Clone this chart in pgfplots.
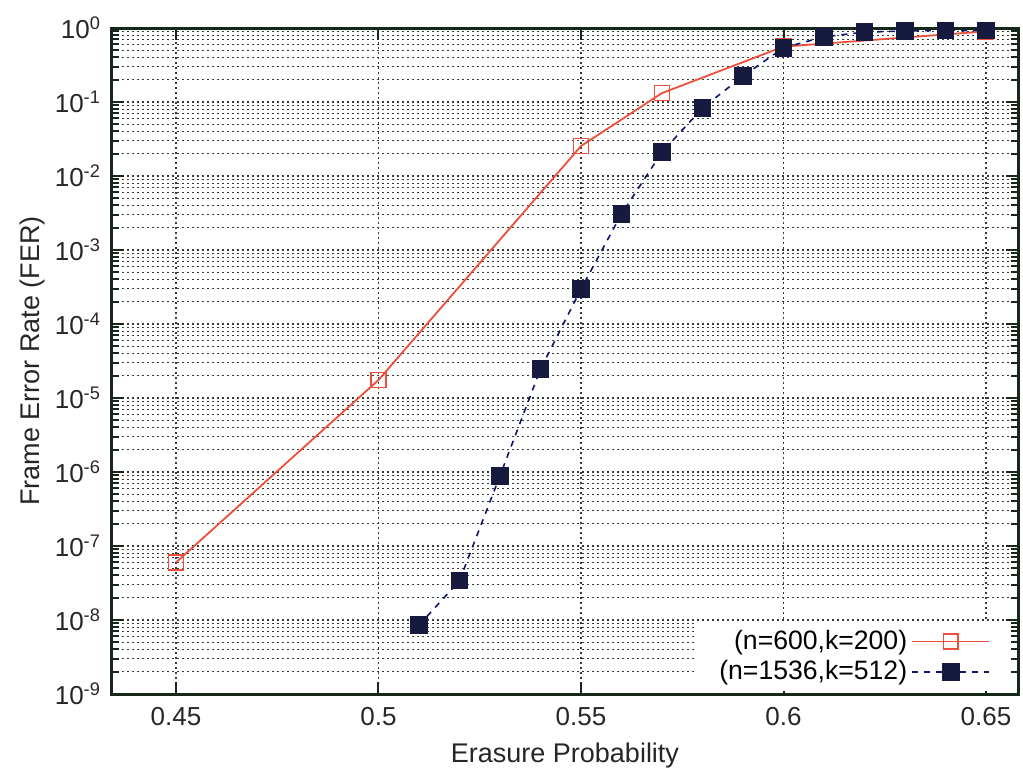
\documentclass[border=0pt]{standalone}
\usepackage{pgfplots}
\pgfplotsset{compat=1.18}
\usepackage{fontspec}
\setmainfont{Liberation Sans}
\usetikzlibrary{calc}
\definecolor{cred}{RGB}{238,78,58}
\definecolor{cnavy}{RGB}{22,26,62}
\definecolor{caxis}{RGB}{22,38,26}
\definecolor{cgrid}{RGB}{50,60,50}
\begin{document}
\begin{tikzpicture}
\begin{axis}[
  scale only axis,
  width=453pt, height=333pt,
  ymode=log,
  xmin=0.4342, xmax=0.6579,
  ymin=1e-9, ymax=1,
  axis line style={color=caxis, line width=1.5pt},
  tick style={color=caxis, line width=1pt},
  major tick length=6pt, minor tick length=3.5pt,
  tick align=inside,
  xtick={0.45,0.5,0.55,0.6,0.65},
  xticklabels={0.45,0.5,0.55,0.6,0.65},
  ytick={1e-9,1e-8,1e-7,1e-6,1e-5,1e-4,1e-3,1e-2,1e-1,1},
  yticklabels={10\textsuperscript{-9},10\textsuperscript{-8},10\textsuperscript{-7},10\textsuperscript{-6},10\textsuperscript{-5},10\textsuperscript{-4},10\textsuperscript{-3},10\textsuperscript{-2},10\textsuperscript{-1},10\textsuperscript{0}},
  ticklabel style={font=\fontsize{13}{15}\selectfont, color=black!85},
  xticklabel style={yshift=-3pt},
  yticklabel style={xshift=-2pt},
  xmajorgrids, ymajorgrids, yminorgrids,
  major grid style={color=cgrid, line width=0.6pt, dash pattern=on 0.9pt off 1.6pt},
  minor grid style={color=cgrid, line width=0.6pt, dash pattern=on 0.9pt off 1.6pt},
  xlabel={Erasure Probability},
  ylabel={Frame Error Rate (FER)},
  label style={font=\fontsize{13.5}{15}\selectfont, color=black!85},
  xlabel style={yshift=-2pt},
  ylabel style={yshift=-2pt},
  legend plot pos=right,
  legend cell align=right,
  legend style={at={(rel axis cs:0.992,0.004)}, anchor=south east, draw=none, fill=white,
    font=\fontsize{13.3}{15}\selectfont, inner xsep=10pt, inner ysep=2pt, row sep=0pt},
  legend image code/.code={\draw[mark repeat=2,mark phase=2] plot coordinates {(0cm,0cm) (0.68cm,0cm) (1.36cm,0cm)};},
]
\coordinate (ll) at (rel axis cs:0,0);
\coordinate (ur) at (rel axis cs:1,1);
\addplot[color=cred, line width=0.9pt, mark=square, mark size=3.7pt, mark options={solid, line width=0.8pt}]
  coordinates {(0.45,6.0e-8) (0.5,1.75e-5) (0.55,2.54e-2) (0.57,0.132) (0.6,0.56) (0.65,0.9)};
\addlegendentry{(n=600,k=200)}
\addplot[color=cnavy!75!blue, line width=0.8pt, dash pattern=on 3pt off 3pt, mark=square*, mark size=4pt, mark options={solid, fill=cnavy, draw=cnavy}]
  coordinates {(0.51,8.5e-9) (0.52,3.4e-8) (0.53,8.9e-7) (0.54,2.46e-5) (0.55,2.96e-4) (0.56,3.08e-3) (0.57,2.1e-2) (0.58,8.3e-2) (0.59,0.224) (0.6,0.54) (0.61,0.76) (0.62,0.88) (0.63,0.91) (0.64,0.93) (0.65,0.92)};
\addlegendentry{(n=1536,k=512)}
\end{axis}
\pgfresetboundingbox
\useasboundingbox ($(ll)+(-56pt,-38.5pt)$) rectangle ($(ur)+(2.5pt,14pt)$);
\end{tikzpicture}
\end{document}
